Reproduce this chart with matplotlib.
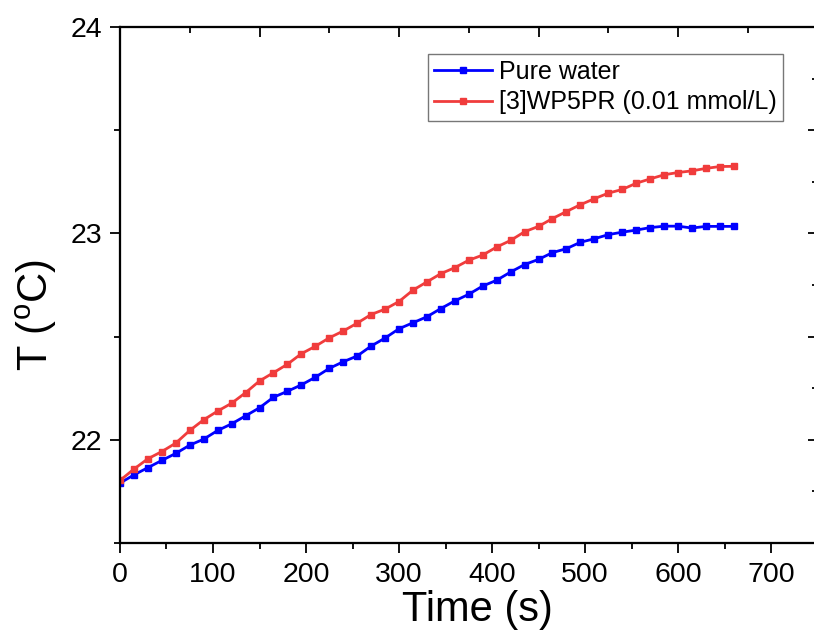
import matplotlib
matplotlib.use('Agg')
import matplotlib.pyplot as plt
from matplotlib.ticker import MultipleLocator

plt.rcParams['font.family'] = ['Liberation Sans', 'DejaVu Sans']
plt.rcParams['mathtext.fontset'] = 'custom'
plt.rcParams['mathtext.rm'] = 'Liberation Sans'

# time in seconds, one reading every 15 s
time_s = list(range(0, 661, 15))

# temperature readings (deg C)
pure_water = [21.79, 21.83, 21.865, 21.90, 21.934, 21.974, 22.003, 22.045, 22.077, 22.116,
              22.155, 22.206, 22.235, 22.266, 22.303, 22.346, 22.378, 22.406, 22.454, 22.493,
              22.538, 22.567, 22.596, 22.636, 22.673, 22.705, 22.745, 22.773, 22.813, 22.849,
              22.874, 22.907, 22.926, 22.957, 22.974, 22.994, 23.006, 23.016, 23.028, 23.035,
              23.035, 23.026, 23.034, 23.034, 23.034]
wp5pr = [21.803, 21.858, 21.908, 21.943, 21.984, 22.045, 22.097, 22.139, 22.177, 22.228,
         22.285, 22.325, 22.366, 22.417, 22.453, 22.494, 22.527, 22.565, 22.607, 22.633,
         22.670, 22.725, 22.765, 22.805, 22.834, 22.870, 22.895, 22.934, 22.966, 23.008,
         23.034, 23.072, 23.106, 23.139, 23.168, 23.195, 23.213, 23.243, 23.264, 23.284,
         23.295, 23.303, 23.315, 23.324, 23.325]

labels = ['Pure water', '[3]WP5PR (0.01 mmol/L)']
colors = ['#0000FF', '#F03C3C']

fig = plt.figure(figsize=(8.14, 6.37), dpi=100)
ax = fig.add_axes([0.1474, 0.1476, 0.857, 0.810])

ax.plot(time_s, pure_water, '-s', color=colors[0], lw=2, ms=5, label=labels[0])
ax.plot(time_s, wp5pr, '-s', color=colors[1], lw=2, ms=5, label=labels[1])

ax.set_xlim(0, 750)
ax.set_ylim(21.5, 24)
ax.xaxis.set_major_locator(MultipleLocator(100))
ax.xaxis.set_minor_locator(MultipleLocator(50))
ax.yaxis.set_major_locator(MultipleLocator(1))
ax.yaxis.set_minor_locator(MultipleLocator(0.5))
ax.tick_params(which='both', direction='out', width=1.3, labelsize=20.5, top=False, right=False)
ax.tick_params(which='major', length=7)
ax.tick_params(which='minor', length=4)
ax.tick_params(axis='x', pad=7)
ax.tick_params(axis='y', pad=6)
for s in ax.spines.values():
    s.set_linewidth(1.5)

# top and right axes carry their own ticks (no labels)
axt = ax.twiny()
axt.set_xlim(0, 750)
axt.xaxis.set_major_locator(MultipleLocator(150))
axt.xaxis.set_minor_locator(MultipleLocator(75))
axt.tick_params(which='both', direction='in', width=1.3, labeltop=False)
axt.tick_params(which='major', length=7)
axt.tick_params(which='minor', length=4)

axr = ax.twinx()
axr.set_ylim(21.5, 24)
axr.yaxis.set_major_locator(MultipleLocator(0.5))
axr.yaxis.set_minor_locator(MultipleLocator(0.25))
axr.tick_params(which='both', direction='in', width=1.3, labelright=False)
axr.tick_params(which='major', length=7)
axr.tick_params(which='minor', length=4)
for a in (axt, axr):
    for s in a.spines.values():
        s.set_linewidth(1.5)

ax.set_xlabel('Time (s)', fontsize=30)
ax.xaxis.set_label_coords(0.512, -0.092)
ax.set_ylabel(r'T ($^{\rm o}$C)', fontsize=30)
ax.yaxis.set_label_coords(-0.088, 0.442)

leg = ax.legend(loc='upper right', bbox_to_anchor=(0.9505, 0.9477), borderaxespad=0,
                fontsize=18, frameon=True, fancybox=False, handlelength=2.3,
                handletextpad=0.3, labelspacing=0.25, borderpad=0.25)
leg.get_frame().set_edgecolor('#555555')
leg.get_frame().set_linewidth(1.0)

fig.savefig('out.png', dpi=100)
